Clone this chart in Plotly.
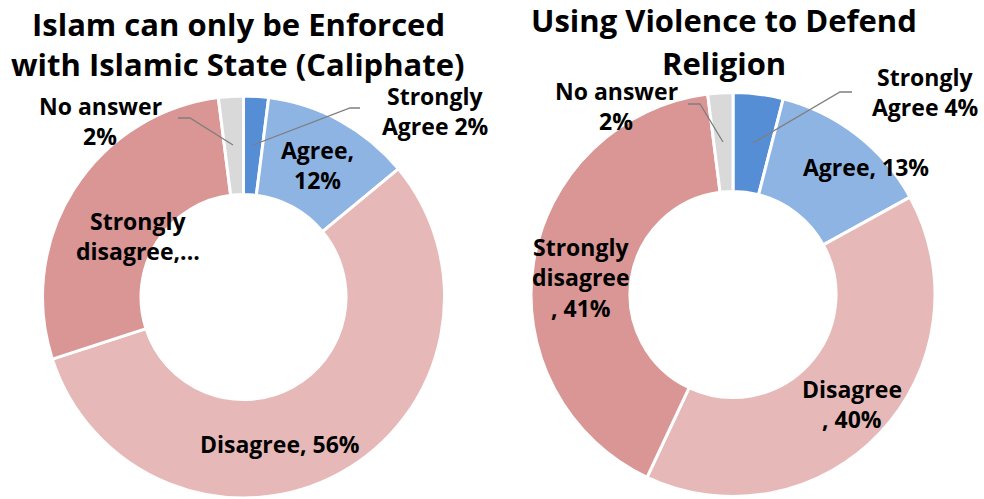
import plotly.graph_objects as go

categories = ["Strongly Agree", "Agree", "Disagree", "Strongly disagree", "No answer"]
caliphate_values = [2, 12, 56, 28, 2]
violence_values = [4, 13, 40, 41, 2]
colors = ["#558ED5", "#8EB4E3", "#E6B9B8", "#D99694", "#D9D9D9"]

caliphate_title = ["Islam can only be Enforced", "with Islamic State (Caliphate)"]
violence_title = ["Using Violence to Defend", "Religion"]

# label line templates (line breaks as in the original)
caliphate_label_tpl = [
    ["Strongly", "Agree {v}%"],
    ["Agree,", "{v}%"],
    ["Disagree, {v}%"],
    ["Strongly", "disagree,..."],
    ["No answer", "{v}%"],
]
violence_label_tpl = [
    ["Strongly", "Agree {v}%"],
    ["Agree, {v}%"],
    ["Disagree", ", {v}%"],
    ["Strongly", "disagree", ", {v}%"],
    ["No answer", "{v}%"],
]

W, H = 984, 499
FONT = "Open Sans"

fig = go.Figure()


def px_x(x):
    return x / W


def px_y(y):
    return 1 - y / H


def add_pie(values, cx, cy, r):
    fig.add_trace(go.Pie(
        labels=categories, values=values, sort=False, direction="clockwise",
        rotation=0, hole=0.51, textinfo="none", hoverinfo="label+percent",
        marker=dict(colors=colors, line=dict(color="white", width=3)),
        domain=dict(x=[px_x(cx - r), px_x(cx + r)], y=[px_y(cy + r), px_y(cy - r)]),
        showlegend=False,
    ))


add_pie(caliphate_values, 243.5, 297, 201)
add_pie(violence_values, 733, 294.5, 202)


def add_lines(lines, cx, cy, size, spacing):
    n = len(lines)
    for i, t in enumerate(lines):
        y = cy + (i - (n - 1) / 2) * spacing
        fig.add_annotation(
            x=px_x(cx), y=px_y(y), xref="paper", yref="paper", text=t,
            showarrow=False, xanchor="center", yanchor="middle",
            font=dict(family=FONT, size=size, color="black", weight="bold"),
        )


add_lines(caliphate_title, 238, 44.5, 31, 40)
add_lines(violence_title, 724, 41.5, 31, 43)

cal_pos = [(435, 111), (317, 165), (280, 444), (138, 236), (100, 121)]
vio_pos = [(925, 92), (866, 167), (852, 404), (581, 277), (616, 106)]

for tpl, v, (x, y) in zip(caliphate_label_tpl, caliphate_values, cal_pos):
    add_lines([s.format(v=v) for s in tpl], x, y, 23, 30)
for tpl, v, (x, y) in zip(violence_label_tpl, violence_values, vio_pos):
    add_lines([s.format(v=v) for s in tpl], x, y, 23, 30.5)

leaders = [
    [(360, 108), (350, 108), (253, 145)],
    [(178, 118), (190, 118), (233, 145)],
    [(852, 92), (840, 92), (753, 143)],
    [(688, 104), (700, 104), (723, 142)],
]
for pts in leaders:
    path = "M " + " L ".join(f"{px_x(x)},{px_y(y)}" for x, y in pts)
    fig.add_shape(type="path", path=path, xref="paper", yref="paper",
                  line=dict(color="#7F7F7F", width=1.3))

fig.update_layout(
    width=W, height=H, margin=dict(l=0, r=0, t=0, b=0),
    paper_bgcolor="white", plot_bgcolor="white",
)

fig.write_html(
    "out.html",
    config={"displayModeBar": False},
    post_script="document.body.style.margin='0';document.body.style.overflow='hidden';",
)
